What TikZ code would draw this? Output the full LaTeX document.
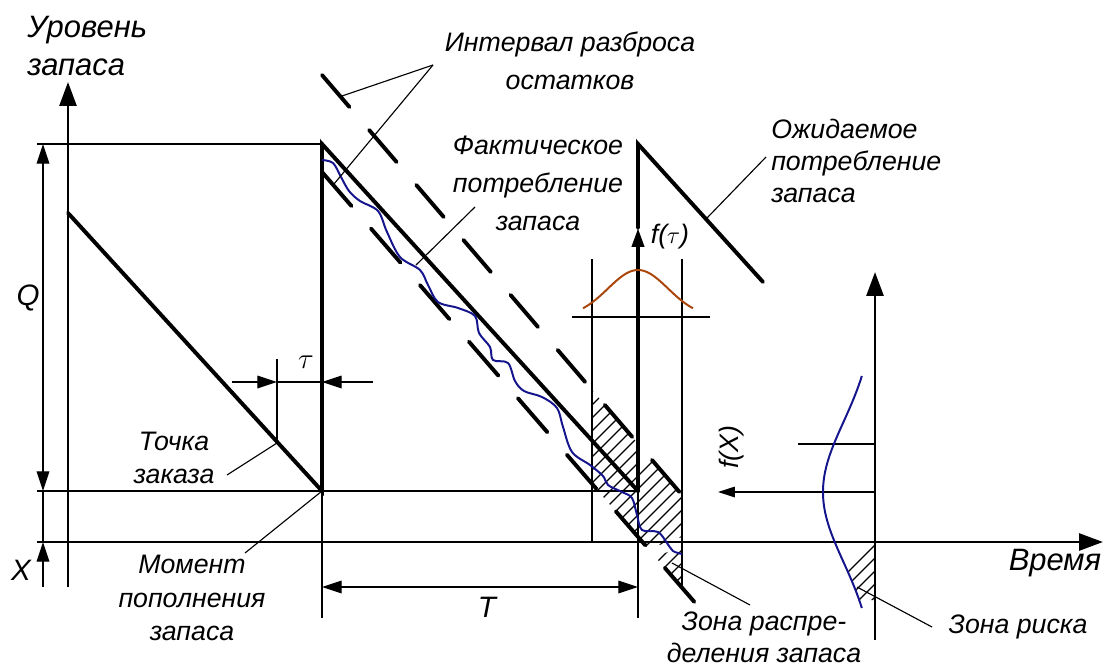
\documentclass[tikz,border=0pt]{standalone}
\usepackage{fontspec}
\setmainfont{Liberation Sans}
\usetikzlibrary{arrows.meta, calc}
\definecolor{factblue}{RGB}{20,20,140}
\definecolor{taubrown}{RGB}{170,70,10}

\begin{document}
\begin{tikzpicture}[
    x=0.025cm, y=-0.025cm,
    txt/.style={font=\fontsize{19}{24}\selectfont\itshape, inner sep=0pt, align=center},
    axislab/.style={txt, font=\fontsize{22}{27}\selectfont\itshape},
    heavy/.style={line width=2.8pt, line cap=round},
    axis/.style={line width=2.1pt},
    fine/.style={line width=0.9pt},
    leader/.style={line width=0.8pt},
    hatch/.style={line width=0.8pt},
    bigtip/.style={-{Triangle[length=17pt, width=12pt]}},
    smalltip/.style={-{Triangle[length=14pt, width=9pt]}},
    dimline/.style={fine, {Triangle[length=14pt, width=9pt]}-{Triangle[length=14pt, width=9pt]}}
]
\useasboundingbox (0,0) rectangle (1104,671);

% key points of the stock curve
\coordinate (s0) at (68,213);
\coordinate (r1) at (322,491);
\coordinate (q1) at (322,144);
\coordinate (r2) at (638,491);
\coordinate (q2) at (638,144);
\coordinate (s2) at (763,282);
\coordinate (ftau) at (638,228);
\coordinate (ord) at (277,443);

% axes
\draw[axis, bigtip] (68,587) -- (68,82);
\draw[axis, bigtip] (37,542) -- (1103,542);
\draw[axis, bigtip] (875,640) -- (875,272);

% help lines
\draw[fine] (37,144) -- (q1);
\draw[fine] (37,491) -- (r2);
\draw[fine] (r1) -- (322,618);
\draw[fine] (r2) -- (638,618);
\draw[fine] (277,359) -- (ord);
\draw[fine] (572,317) -- (710,317);
\draw[fine] (592,259) -- (592,542);
\draw[fine] (682,259) -- (682,587);
\draw[fine] (798,444) -- (875,444);

% dimensions
\draw[dimline] (43,144) -- (43,491);
\draw[fine] (43,491) -- (43,542);
\draw[fine, smalltip] (43,587) -- (43,542);
\draw[dimline] (322,587) -- (638,587);
\draw[fine, smalltip] (232,382) -- (277,382);
\draw[fine] (277,382) -- (322,382);
\draw[fine, smalltip] (373,382) -- (322,382);
\draw[fine, -{Triangle[length=12pt, width=7.5pt]}] (875,492) -- (718,492);

% hatched zones
\begin{scope}
  \clip (593,391) -- (638,443.8) -- (638,474) -- (650,458) -- (682,495)
        -- (682,537) -- (648,549) -- (593,485) -- cycle;
  \foreach \k in {0,...,22} \draw[hatch] (364+13*\k,620) -- ++(250,-250);
\end{scope}
\begin{scope}
  \clip (655,556.6) -- (682,547) -- (682,587.7) -- cycle;
  \foreach \k in {0,...,10} \draw[hatch] (560+13*\k,620) -- ++(250,-250);
\end{scope}
\begin{scope}
  \clip plot[domain=542:600, samples=20] ({875-52*exp(-((\x-492)^2)/9800)}, \x) -- (875,600) -- (875,542) -- cycle;
  \foreach \k in {0,...,8} \draw[hatch] (800+13*\k,620) -- ++(100,-100);
\end{scope}

% bounds of the interval
\draw[heavy, dash pattern=on 30pt off 21.5pt] (322,75) -- (682,495);
\draw[heavy, dash pattern=on 32pt off 21.2pt] (322,172) -- (697,605);

% stock curve
\draw[heavy] (s0) -- (r1) -- (q1) -- (r2);
\draw[heavy, -{Triangle[length=13.5pt, width=8.5pt]}] (r2) -- (ftau);
\draw[heavy] (ftau) -- (q2) -- (s2);

% distributions and actual consumption
\draw[taubrown, line width=1.4pt] plot[domain=583:693, samples=60] (\x, {317-47*exp(-((\x-638)^2)/1800)});
\draw[factblue, line width=1.4pt] plot[domain=376:608, samples=80] ({875-52*exp(-((\x-492)^2)/9800)}, \x);
\draw[factblue, line width=1.4pt] plot[smooth, tension=0.55] coordinates {
  (322,160) (333,163) (341,177) (349,191) (360,201) (378,211) (387,232) (400,257)
  (420,270) (428,285) (438,302) (458,308) (475,316) (479,333) (490,347) (493,360)
  (508,363) (515,381) (524,391) (542,397) (557,408) (563,427) (572,452) (590,465)
  (603,476) (608,485) (622,492) (632,498) (637,515) (642,530) (658,532) (667,543)
  (673,551) (682,554)};

% labels
\node[axislab, align=left, anchor=west] (level) at (27,46) {Уровень\\запаса};
\node[txt] (spread) at (570,61) {Интервал разброса\\[3pt]остатков};
\node[txt] (fact) at (538,183) {Фактическое\\[3pt]потребление\\[3pt]запаса};
\node[txt, align=left, anchor=west] (expect) at (771,161) {Ожидаемое\\[-1.5pt]потребление\\[-1.5pt]запаса};
\node[txt] (ftaulab) at (670,237) {f($\tau$)};
\node[txt, font=\fontsize{21}{24}\selectfont\itshape] (qlab) at (28,298) {Q};
\node[txt, font=\fontsize{21}{24}\selectfont] (taulab) at (306,362) {$\tau$};
\node[txt] (order) at (174,458) {Точка\\заказа};
\node[txt, font=\fontsize{21}{24}\selectfont\itshape] (xlab) at (21,570) {X};
\node[txt] (moment) at (192,598) {Момент\\пополнения\\запаса};
\node[txt, font=\fontsize{21}{24}\selectfont\itshape] (tlab) at (487,607) {T};
\node[txt] (zdist) at (764,637) {Зона распре-\\[-1pt]деления запаса};
\node[txt] (zrisk) at (1018,627) {Зона риска};
\node[axislab] (time) at (1055,563) {Время};
\node[txt, rotate=90] (fxlab) at (732,447) {f(X)};

% leaders
\coordinate (spreadfoot) at (433,65);
\draw[leader] (spreadfoot) -- (342,96);
\draw[leader] (spreadfoot) -- (334,184);
\coordinate (factfoot) at (475,207);
\draw[leader] (factfoot) -- (416,265);
\coordinate (expectfoot) at (766,157);
\draw[leader] (expectfoot) -- (707,218);
\coordinate (orderfoot) at (227,475);
\draw[leader] (orderfoot) -- (ord);
\coordinate (momentfoot) at (245,553);
\draw[leader] (momentfoot) -- (r1);
\coordinate (zdistfoot) at (750,605);
\draw[leader] (zdistfoot) -- (672,563);
\coordinate (zriskfoot) at (932,627);
\draw[leader] (zriskfoot) -- (857,587);

\end{tikzpicture}
\end{document}
